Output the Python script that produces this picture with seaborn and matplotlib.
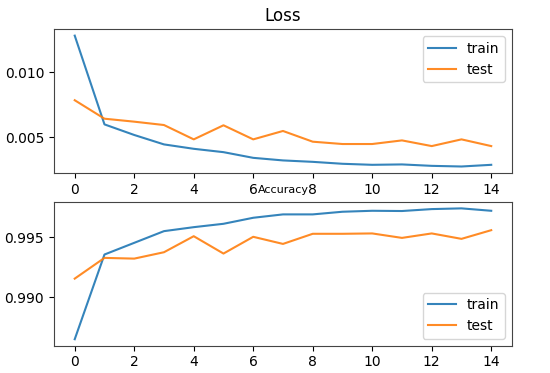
import seaborn as sns
import pandas as pd
import matplotlib.pyplot as plt

epochs = list(range(15))

loss_train = [0.01285, 0.00598, 0.00516, 0.00443, 0.00409, 0.00383, 0.00339, 0.00319,
              0.00308, 0.00293, 0.00285, 0.00288, 0.00277, 0.00272, 0.00285]
loss_test = [0.00785, 0.00642, 0.00619, 0.00593, 0.00482, 0.00591, 0.00482, 0.00547,
             0.00464, 0.00446, 0.00446, 0.00474, 0.00430, 0.00482, 0.00430]

acc_train = [0.98653, 0.99356, 0.99453, 0.99550, 0.99583, 0.99611, 0.99661, 0.99689,
             0.99689, 0.99711, 0.99719, 0.99717, 0.99733, 0.99739, 0.99719]
acc_test = [0.99156, 0.99328, 0.99322, 0.99375, 0.99508, 0.99364, 0.99503, 0.99444,
            0.99528, 0.99528, 0.99531, 0.99494, 0.99531, 0.99486, 0.99558]

loss_ticks = [0.005, 0.010]
acc_ticks = [0.990, 0.995]


def plot_history(ax, train, test, title, title_size, legend_loc, yticks):
    sns.lineplot(ax=ax, x=epochs, y=train, label="train", color="tab:blue", alpha=0.9)
    sns.lineplot(ax=ax, x=epochs, y=test, label="test", color="tab:orange", alpha=0.9)
    ax.set_title(title, fontsize=title_size)
    ax.legend(loc=legend_loc)
    ax.set_xticks(range(0, 15, 2))
    ax.set_yticks(yticks)
    ax.set_yticklabels([f"{t:.3f}" for t in yticks])
    for spine in ax.spines.values():
        spine.set_color("#444444")


fig, axes = plt.subplots(nrows=2, ncols=1, figsize=(5.5, 3.73), dpi=100)
fig.subplots_adjust(left=0.098, right=0.931, top=0.922, bottom=0.073, hspace=0.2)

plot_history(axes[0], loss_train, loss_test, "Loss", 12, "upper right", loss_ticks)
plot_history(axes[1], acc_train, acc_test, "Accuracy", 8, "lower right", acc_ticks)

fig.savefig("out.png", format="png")
